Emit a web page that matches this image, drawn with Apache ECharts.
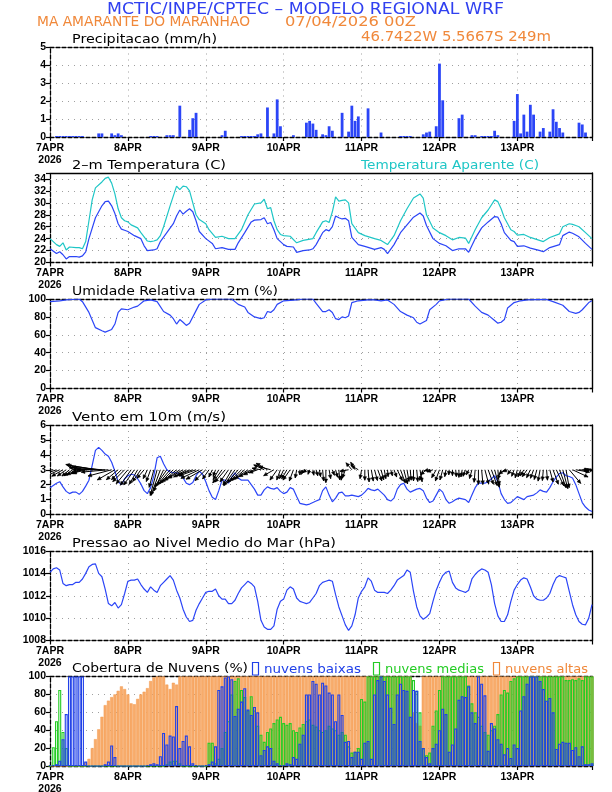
<!DOCTYPE html>
<html><head><meta charset="utf-8">
<script src="https://cdn.jsdelivr.net/npm/echarts@6/dist/echarts.min.js"></script>
<style>html,body{margin:0;padding:0;background:#fff}#c{width:612px;height:792px}</style>
</head><body><div id="c"></div>
<script>
// ---------------- DATA ----------------
const DAY_LABELS = ['7APR\n2026','8APR','9APR','10APR','11APR','12APR','13APR'];
const HOURS = Array.from({length:168},(_,i)=>i); // forecast hours from 07APR 00Z

// Precipitation (mm/h) [hour, value]
const precip = [[2,0.03],[3,0.03],[4,0.03],[5,0.03],[6,0.03],[7,0.03],[8,0.03],[9,0.03],[10,0.03],[15,0.2],[16,0.2],[19,0.2],[20,0.1],[21,0.2],[22,0.1],[31,0.02],[32,0.02],[33,0.02],[36,0.1],[37,0.1],[38,0.1],[40,1.75],[43,0.4],[44,1.05],[45,1.35],[53,0.1],[54,0.35],[59,0.05],[60,0.05],[61,0.05],[62,0.05],[63,0.05],[64,0.15],[65,0.2],[67,1.65],[69,0.2],[70,2.1],[71,0.6],[75,0.1],[79,0.8],[80,0.9],[81,0.75],[82,0.4],[84,0.15],[85,0.1],[86,0.6],[87,0.35],[90,1.35],[92,0.3],[93,1.75],[94,0.9],[95,1.15],[98,1.6],[102,0.25],[108,0.03],[109,0.03],[110,0.03],[111,0.03],[115,0.15],[116,0.25],[117,0.3],[119,0.6],[120,4.1],[121,2.05],[126,1.05],[127,1.25],[130,0.1],[131,0.1],[133,0.03],[134,0.03],[135,0.03],[136,0.03],[137,0.35],[138,0.1],[143,0.9],[144,2.4],[145,0.2],[146,1.25],[147,0.3],[148,1.8],[149,1.25],[151,0.3],[152,0.5],[154,0.3],[155,1.55],[156,0.85],[157,0.5],[158,0.25],[163,0.8],[164,0.7],[165,0.25]];

// 2-m temperature (C) [hour, value]
const temp2m = [[0,22.3],[2,21.5],[3,21.8],[4,21.3],[5,20.6],[6,21.0],[8,21.0],[9,20.9],[10,21.1],[11,21.8],[12,24],[14,27.5],[16,29.5],[17,30.2],[18,30.3],[19,29.5],[20,28.2],[21,26.5],[22,25.6],[23,25.4],[24,25.2],[26,24.5],[28,24.0],[29,22.8],[30,22.0],[32,22.1],[33,22.3],[34,23.5],[36,25],[38,26.5],[39,27.8],[40,28.8],[41,28.1],[42,28.6],[43,29.0],[44,28.5],[45,27],[46,25.2],[48,24],[50,23.2],[51,22.3],[53,22.5],[55,22.2],[57,22.2],[58,23.3],[60,25],[62,26.8],[63,27.1],[65,27.2],[66,27.5],[67,26.5],[68,26.7],[69,25.5],[70,24],[72,23],[73,22.7],[75,22.6],[76,21.7],[78,22],[80,22.1],[81,22.3],[82,23],[84,25],[85,25.5],[86,25.3],[87,26],[88,27.8],[89,27.5],[90,27.3],[91,27.4],[92,27],[93,24.2],[95,23],[97,22.7],[100,22.2],[102,22.5],[103,22.2],[104,21.5],[106,23],[108,25],[110,26.3],[112,27.6],[114,28.3],[115,27.8],[116,26.2],[118,24],[120,23.2],[122,22.8],[124,22],[126,22.3],[128,22.3],[129,21.7],[131,24],[133,25.8],[135,26.8],[137,27.7],[138,27.6],[139,26.5],[140,25],[142,23.7],[143,23.5],[144,22.7],[146,22.8],[148,22.4],[151,22],[152,21.8],[154,22.5],[157,23],[158,24.5],[160,25.1],[161,24.9],[162,24.6],[163,24.3],[165,23.2],[167,22.2]];

// Apparent temperature (C) [hour, value]
const tempApparent = [[0,24],[2,23.0],[3,22.7],[4,23.3],[5,22.1],[6,22.6],[8,22.5],[9,22.5],[10,22.3],[11,23.5],[12,27],[13,30.5],[14,32.5],[16,33.5],[17,34.1],[18,34.3],[19,33.3],[20,31.5],[21,29],[22,27.5],[23,27],[24,26.8],[25,26.3],[27,25.8],[28,25],[30,23.6],[31,23.5],[32,23.6],[33,23.8],[34,24.5],[35,26],[37,29.5],[39,32.8],[40,32.2],[41,32.8],[42,32.7],[43,32],[44,30],[45,28],[46,27.2],[48,26.5],[49,25.5],[51,24.2],[53,24.4],[55,24],[57,24],[59,25.5],[61,28],[63,29.8],[65,30],[66,30.6],[67,29],[68,29.2],[69,27],[70,25.5],[71,24.7],[72,24.5],[74,24.4],[76,23.3],[78,23.7],[81,24],[82,25],[84,26.8],[85,27],[86,26.7],[87,28.5],[88,31],[89,30.3],[90,30.4],[91,30.5],[92,30],[93,26.5],[95,25],[97,24.5],[100,24],[102,23.7],[104,23.0],[106,24.5],[108,27],[110,29],[112,30.8],[114,31.5],[115,30.8],[116,28],[118,25.8],[120,25],[122,24.5],[124,23.8],[126,24.2],[128,24.1],[129,23.2],[131,25.5],[133,27.5],[135,28.8],[137,30.5],[138,30.2],[139,29],[140,27.5],[142,25.5],[143,25.2],[144,24.6],[146,24.7],[148,24.2],[152,23.5],[154,24.2],[157,24.8],[158,26],[160,26.5],[161,26.4],[162,26.2],[163,26],[165,25],[167,24]];

// Relative humidity 2m (%) [hour, value]
const rh2m = [[0,97],[3,98],[5,99],[9,100],[10,97],[12,85],[14,68],[16,64.5],[17,63],[19,66],[20,72],[21,85],[22,89],[24,88],[26,91],[27,92],[29,98],[31,99],[33,97],[35,86],[37,82],[38,78],[39,72],[40,77],[41,74],[42,70.5],[43,73],[45,87],[46,94],[48,99],[50,100],[56,100],[58,94],[60,91],[61,85],[63,80],[65,78],[66,79],[67,86],[68,85],[69,88],[70,94],[72,98],[74,98.5],[76,99],[78,100],[81,100],[82,95],[84,86],[85,86],[86,88],[87,85],[88,78],[89,77],[90,80],[91,79],[92,81],[93,96],[95,98],[98,99],[100,99],[102,98],[104,99],[106,94],[108,86],[110,82],[112,79],[113,74],[114,72],[116,76],[117,88],[119,94],[120,98],[123,100],[129,100],[131,92],[133,85],[135,82],[137,76],[138,73],[139,74],[140,77],[141,90],[143,96],[145,98],[147,99],[153,99.5],[155,97],[158,93],[160,86],[162,84],[163,85],[164,88],[166,96],[167,98]];

// Wind speed 10m (m/s), hourly
const windSpeed = [1.8,1.95,2.1,2.2,1.85,1.55,1.4,1.5,1.5,1.35,1.55,1.9,
 2.3,3.3,4.3,4.5,4.3,4.05,3.9,3.5,2.9,2.2,2.0,2.4,
 2.6,2.7,2.65,2.4,2.05,1.6,1.4,1.8,2.6,3.8,3.9,3.4,
 3.0,2.85,2.8,2.8,2.7,2.45,2.1,2.0,2.15,2.6,2.9,2.7,
 2.2,1.6,1.15,1.0,1.6,2.3,2.3,2.1,2.5,2.8,2.45,2.3,
 2.3,2.3,2.0,1.7,1.3,1.3,1.65,1.85,1.75,1.7,1.8,1.55,
 1.4,1.5,1.8,1.7,1.2,0.75,0.7,0.65,0.7,0.8,0.9,1.0,
 1.6,1.85,1.3,0.85,1.1,1.45,1.5,1.25,1.25,1.3,1.25,1.2,
 1.3,1.5,1.75,1.65,1.6,1.7,1.5,1.3,1.0,0.9,1.1,1.7,
 2.0,2.1,1.7,1.5,1.6,1.7,1.75,1.6,1.1,0.8,0.9,1.3,
 1.7,1.5,1.0,0.75,0.85,1.0,1.1,1.05,1.0,0.8,1.3,1.8,
 2.1,2.1,2.1,2.2,2.4,2.6,2.2,1.4,1.0,0.75,0.8,1.0,
 1.2,1.1,1.0,1.2,1.25,1.3,1.45,1.65,1.55,1.5,1.8,2.2,
 2.5,2.75,2.8,2.6,2.55,2.45,2.0,1.4,0.8,0.5,0.3,0.2];
// Direction the wind arrow points to (deg, 0 = up, 90 = right), hourly
const windArrowDir = [255,265,250,245,240,235,230,235,240,245,250,255,
 270,275,280,278,275,270,265,255,240,230,225,225,
 220,215,215,210,215,220,205,200,195,195,200,205,
 215,220,225,230,235,240,240,245,250,250,245,240,
 225,215,205,200,210,215,220,215,210,215,220,225,
 230,235,240,245,250,280,295,300,285,240,215,200,
 205,210,215,200,190,180,200,230,200,170,165,170,
 175,180,170,160,165,175,185,200,260,320,330,300,
 190,180,175,170,165,160,165,170,175,165,160,155,
 160,165,170,175,180,175,170,200,230,260,250,210,
 200,195,190,185,180,175,180,190,200,205,195,185,
 180,175,165,160,160,165,175,200,230,250,215,200,
 195,200,210,215,205,200,195,190,185,175,165,160,
 155,160,165,170,140,115,100,95,90,80,75,70];
const WIND_ARROW_BASE = 3; // arrows drawn from the 3 m/s line

// Sea level pressure (hPa) [hour, value]
const slp = [[0,1014.1],[1,1014.4],[2,1014.5],[3,1014.3],[4,1013.1],[5,1012.9],[6,1013.0],[7,1013.0],[8,1013.2],[9,1013.2],[10,1013.5],[11,1014.0],[12,1014.6],[13,1014.8],[14,1014.85],[15,1014.0],[16,1013.7],[17,1012.6],[18,1011.3],[19,1011.1],[20,1011.4],[21,1010.9],[22,1011.2],[23,1012.2],[24,1013.3],[25,1013.4],[26,1013.4],[27,1013.5],[28,1013.0],[29,1012.6],[30,1012.3],[31,1012.8],[32,1012.5],[33,1012.3],[34,1012.9],[35,1013.2],[36,1013.5],[37,1013.8],[38,1013.4],[39,1012.5],[40,1011.8],[41,1010.8],[42,1010.1],[43,1009.7],[44,1009.8],[45,1010.7],[46,1011.3],[47,1011.8],[48,1012.3],[49,1012.4],[50,1012.4],[51,1012.6],[52,1012.0],[53,1011.7],[54,1011.7],[55,1011.3],[56,1011.3],[57,1011.6],[58,1012.2],[59,1012.7],[60,1013.0],[61,1013.3],[62,1013.1],[63,1012.8],[64,1011.5],[65,1009.8],[66,1009.2],[67,1009.0],[68,1009.0],[69,1009.3],[70,1010.8],[71,1011.5],[72,1011.7],[73,1012.5],[74,1012.8],[75,1012.6],[76,1011.8],[77,1011.5],[78,1011.4],[79,1011.3],[80,1011.4],[81,1011.8],[82,1012.2],[83,1012.9],[84,1013.2],[85,1013.3],[86,1013.4],[87,1013.3],[88,1012.1],[89,1011.0],[90,1010.2],[91,1009.4],[92,1008.9],[93,1009.3],[94,1010.3],[95,1011.8],[96,1012.4],[97,1012.8],[98,1013.6],[99,1013.3],[100,1012.5],[101,1012.3],[102,1012.3],[103,1012.3],[104,1012.2],[105,1012.5],[106,1012.9],[107,1013.4],[108,1013.6],[109,1013.8],[110,1014.3],[111,1014.1],[112,1012.4],[113,1011.0],[114,1010.2],[115,1009.9],[116,1010.1],[117,1010.4],[118,1011.5],[119,1012.5],[120,1013.2],[121,1013.8],[122,1014.1],[123,1014.2],[124,1013.2],[125,1012.7],[126,1012.5],[127,1012.4],[128,1012.3],[129,1012.5],[130,1013.5],[131,1013.9],[132,1014.2],[133,1014.4],[134,1014.3],[135,1014.1],[136,1013.0],[137,1011.3],[138,1010.2],[139,1009.7],[140,1009.7],[141,1010.3],[142,1011.5],[143,1012.5],[144,1013.0],[145,1013.4],[146,1013.6],[147,1013.5],[148,1012.8],[149,1012.0],[150,1011.7],[151,1011.6],[152,1011.6],[153,1011.8],[154,1012.2],[155,1013.0],[156,1013.6],[157,1013.8],[158,1013.7],[159,1013.6],[160,1012.4],[161,1011.2],[162,1010.3],[163,1009.7],[164,1009.45],[165,1009.4],[166,1010.0],[167,1011.2]];

// Cloud cover (%), hourly
const cloudHigh = [0,0,0,0,0,0,0,0,0,0,0,
 4,8,20,30,41,55,68,73,77,80,84,89,86,80,70,69,75,80,83,87,95,99,100,100,100,91,86,93,91,
 100,100,100,100,100,100,100,100,100,100,100,100,100,100,100,100,100,100,100,100,100,100,100,100,
 100,100,100,100,100,100,100,100,100,100,100,100,100,100,100,100,100,100,100,100,100,100,100,100,
 100,100,100,100,100,100,100,100,100,100,100,100,100,100,100,100,100,100,100,100,100,100,100,100,
 60,48,45,
 100,100,100,100,100,100,100,100,100,100,100,100,100,100,100,100,100,100,100,100,100,100,100,100,100,100,100,
 100,100,100,100,100,100,100,100,100,100,100,100,100,100,100,100,100,100,100,100,100,100,100,100,100,100];
const cloudMid = [0,21,50,85,38,20,
 0,0,0,0,0,0,0,0,0,0,0,0,0,0,0,0,0,0,0,0,0,0,0,0,0,0,0,0,0,0,
 2,5,6,6,3,
 0,0,0,0,0,0,0,0,
 26,26,3,8,20,38,50,80,95,98,85,77,62,78,62,45,35,27,38,42,48,52,55,48,46,48,40,38,43,47,50,52,46,44,40,38,40,45,42,40,35,38,35,22,15,16,20,75,72,100,
 100,100,100,100,100,100,100,100,100,100,100,100,100,
 96,84,60,20,12,15,45,62,85,100,100,100,100,100,100,100,100,90,70,60,55,45,38,35,40,45,58,80,85,82,95,98,
 100,100,100,100,100,100,100,100,100,100,100,100,100,100,100,96,96,97,96,98,96,100,100,100];
const cloudLow = [1,1,2,6,30,58,100,100,100,100,100,5,
 0,0,0,0,0,2,5,23,10,0,0,0,0,0,0,0,0,0,
 1,2,3,2,11,37,24,34,33,67,20,28,34,22,3,1,0,0,1,2,5,22,
 85,89,99,100,97,56,64,72,87,63,57,66,60,12,18,22,20,6,3,1,1,3,2,10,8,25,35,80,80,95,92,80,93,90,82,80,50,80,57,27,28,10,16,16,8,26,28,8,
 80,96,100,95,80,65,47,80,92,85,84,55,85,84,28,20,10,3,20,25,40,64,58,16,24,42,74,78,77,89,60,48,100,92,79,17,48,42,30,25,13,20,9,24,20,
 62,78,92,100,100,100,95,86,73,76,60,19,25,27,26,26,18,21,11,22,2,2,3];

// ---------------- LAYOUT / STYLE ----------------
const BLUE='#2b45f7', TEAL='#1fc6c6', ORANGE='#f0883a', GREEN='#24cc24', TITLEBLUE='#3040f0';
const LEFT=50, WIDTH=542, H=89.5;
const TOPS=[47.5,173,299,425,551,676.5];
const YAX=[{min:0,max:5,interval:1},{min:20,max:35,interval:2},{min:0,max:100,interval:20},
           {min:0,max:6,interval:1},{min:1008,max:1016,interval:2},{min:0,max:100,interval:20}];
const TOPSOLID=[false,true,false,false,false,false];
const TICKFONT={fontFamily:'Liberation Sans',fontWeight:'bold',fontSize:10.5,color:'#000'};
const DASH=[4,2];

const grids=[],xAxes=[],yAxes=[];
TOPS.forEach((t,i)=>{
  grids.push({left:LEFT,top:t,width:WIDTH,height:H,show:false,outerBoundsMode:'none'});
  xAxes.push({type:'value',gridIndex:i,min:0,max:167,interval:24,position:'bottom',
    axisLine:{show:true,onZero:false,lineStyle:{color:'#000',width:1.3,type:DASH}},
    axisTick:{show:true,inside:false,length:4,lineStyle:{color:'#000',width:1.2}},
    axisLabel:Object.assign({margin:5,lineHeight:12,formatter:v=>(v%24===0&&v/24<7)?DAY_LABELS[v/24]:''},TICKFONT),
    splitLine:{show:true,lineStyle:{color:'#a0a0a0',width:1,type:[1,5]}}});
  xAxes.push({type:'value',gridIndex:i,min:0,max:167,position:'top',
    axisLine:{show:true,onZero:false,lineStyle:{color:'#000',width:1.3,type:TOPSOLID[i]?'solid':DASH}},
    axisTick:{show:false},axisLabel:{show:false},splitLine:{show:false}});
  const y=YAX[i];
  yAxes.push({type:'value',gridIndex:i,min:y.min,max:y.max,interval:y.interval,position:'left',
    axisLine:{show:true,onZero:false,lineStyle:{color:'#000',width:1.3,type:DASH}},
    axisTick:{show:true,inside:false,length:4,lineStyle:{color:'#000',width:1.2}},
    axisLabel:Object.assign({margin:4,formatter:v=>(v-y.min)%y.interval===0?String(v):''},TICKFONT),
    splitLine:{show:true,lineStyle:{color:'#a0a0a0',width:1,type:[1,5]}}});
  yAxes.push({type:'value',gridIndex:i,min:y.min,max:y.max,position:'right',
    axisLine:{show:true,onZero:false,lineStyle:{color:'#000',width:1.4}},
    axisTick:{show:false},axisLabel:{show:false},splitLine:{show:false}});
});
const X=i=>2*i, Y=i=>2*i;

const lineSeries=(data,i,color)=>({type:'line',xAxisIndex:X(i),yAxisIndex:Y(i),data,
  showSymbol:false,symbol:'none',smooth:false,lineStyle:{color,width:1.2},z:3,animation:false});
const cloudBar=(arr,color,fill,bw)=>({type:'bar',xAxisIndex:X(5),yAxisIndex:Y(5),
  data:arr.map((v,k)=>[HOURS[k],v]),barWidth:3.0,barGap:'-100%',animation:false,
  itemStyle:{color:fill,borderColor:color,borderWidth:bw}});

const ARROW_PX=7; // pixels per m/s for arrow length
const series=[
  {type:'bar',xAxisIndex:X(0),yAxisIndex:Y(0),data:precip,barWidth:2.8,barMinHeight:1,
   itemStyle:{color:BLUE},animation:false},
  lineSeries(temp2m,1,BLUE),
  lineSeries(tempApparent,1,TEAL),
  lineSeries(rh2m,2,BLUE),
  lineSeries(windSpeed.map((v,k)=>[HOURS[k],v]),3,BLUE),
  {type:'custom',xAxisIndex:X(3),yAxisIndex:Y(3),clip:true,animation:false,z:4,
   data:windSpeed.map((v,k)=>[HOURS[k],v,windArrowDir[k]]),
   renderItem:function(params,api){
     const p=api.coord([api.value(0),WIND_ARROW_BASE]);
     const L=api.value(1)*ARROW_PX, a=api.value(2)*Math.PI/180;
     const tx=p[0]+L*Math.sin(a), ty=p[1]-L*Math.cos(a);
     const back=Math.atan2(p[1]-ty,p[0]-tx), hl=4, ha=0.45;
     return {type:'group',children:[
       {type:'line',shape:{x1:p[0],y1:p[1],x2:tx,y2:ty},style:{stroke:'#000',lineWidth:1}},
       {type:'polygon',shape:{points:[[tx,ty],[tx+hl*Math.cos(back+ha),ty+hl*Math.sin(back+ha)],[tx+hl*Math.cos(back-ha),ty+hl*Math.sin(back-ha)]]},style:{fill:'#000',stroke:'#000',lineWidth:0.5}}
     ]};
   }},
  lineSeries(slp,4,BLUE),
  cloudBar(cloudHigh,'#f39a4e','#f8ab6a',0.5),
  cloudBar(cloudMid,GREEN,'rgba(0,0,0,0)',1.1),
  cloudBar(cloudLow,'#2040e8','rgba(0,0,0,0)',1.1)
];

// ---------------- TEXT ----------------
const mctx=document.createElement('canvas').getContext('2d');
function fitText(text,x,y,w,size,color){
  const font=size+'px "DejaVu Sans"';
  mctx.font=font;
  const sx=w/mctx.measureText(text).width;
  return {type:'text',x:x,y:y,scaleX:sx,scaleY:1,z:10,
    style:{text:text,x:0,y:0,fill:color,font:font,align:'left',verticalAlign:'middle',textAlign:'left',textVerticalAlign:'middle'}};
}
const TITLE_SIZE=11.8;
const graphics=[
  fitText('MCTIC/INPE/CPTEC – MODELO REGIONAL WRF',107,10,397,16.5,TITLEBLUE),
  fitText('MA AMARANTE DO MARANHAO',37,22.5,213,13.7,ORANGE),
  fitText('07/04/2026 00Z',285,22.5,131,13.7,ORANGE),
  fitText('46.7422W 5.5667S 249m',361,37.5,190,13.7,ORANGE),
  fitText('Precipitacao (mm/h)',72,TOPS[0]-8,145,TITLE_SIZE,'#000'),
  fitText('2–m Temperatura (C)',72,TOPS[1]-7.5,154,TITLE_SIZE,'#000'),
  fitText('Temperatura Aparente (C)',361,TOPS[1]-7.5,178,TITLE_SIZE,TEAL),
  fitText('Umidade Relativa em 2m (%)',72,TOPS[2]-7.5,206,TITLE_SIZE,'#000'),
  fitText('Vento em 10m (m/s)',72,TOPS[3]-7.5,154,TITLE_SIZE,'#000'),
  fitText('Pressao ao Nivel Medio do Mar (hPa)',72,TOPS[4]-7.5,264,TITLE_SIZE,'#000'),
  fitText('Cobertura de Nuvens (%)',72,TOPS[5]-7.5,176,TITLE_SIZE,'#000'),
  {type:'rect',shape:{x:252.5,y:662.5,width:6,height:12.5},style:{fill:'none',stroke:'#2040e8',lineWidth:1.2},z:10},
  fitText('nuvens baixas',264,TOPS[5]-7,97,TITLE_SIZE,'#2040e8'),
  {type:'rect',shape:{x:373.5,y:662.5,width:6,height:12.5},style:{fill:'none',stroke:GREEN,lineWidth:1.2},z:10},
  fitText('nuvens medias',385,TOPS[5]-7,99,TITLE_SIZE,GREEN),
  {type:'rect',shape:{x:493.5,y:662.5,width:6,height:12.5},style:{fill:'none',stroke:ORANGE,lineWidth:1.2},z:10},
  fitText('nuvens altas',505,TOPS[5]-7,83,TITLE_SIZE,ORANGE)
];

const chart=echarts.init(document.getElementById('c'),null,{renderer:'canvas'});
chart.setOption({animation:false,backgroundColor:'#fff',grid:grids,xAxis:xAxes,yAxis:yAxes,series:series,graphic:graphics});
</script></body></html>
